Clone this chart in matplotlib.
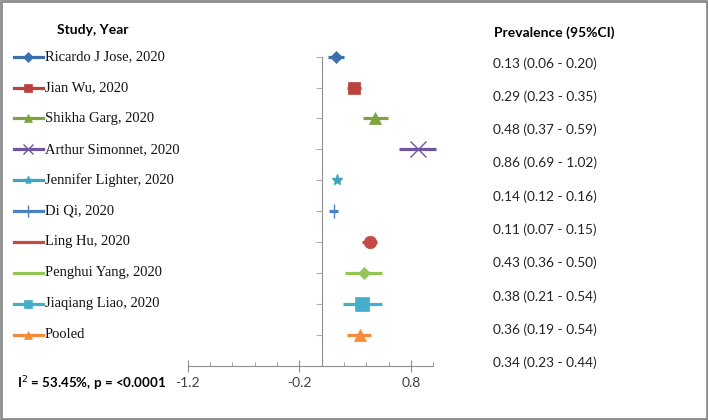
import matplotlib
matplotlib.use("Agg")
from matplotlib import pyplot as plt
from matplotlib.patches import Rectangle
from matplotlib.ticker import MultipleLocator, FixedLocator
import matplotlib.transforms as mtransforms

# study data
studies = ["Ricardo J Jose, 2020", "Jian Wu, 2020", "Shikha Garg, 2020",
           "Arthur Simonnet, 2020", "Jennifer Lighter, 2020", "Di Qi, 2020",
           "Ling Hu, 2020", "Penghui Yang, 2020", "Jiaqiang Liao, 2020", "Pooled"]
prev = [0.13, 0.29, 0.48, 0.86, 0.14, 0.11, 0.43, 0.38, 0.36, 0.34]
ci_low = [0.06, 0.23, 0.37, 0.69, 0.12, 0.07, 0.36, 0.21, 0.19, 0.23]
ci_high = [0.20, 0.35, 0.59, 1.02, 0.16, 0.15, 0.50, 0.54, 0.54, 0.44]
x_ticks_major = [-1.2, -0.2, 0.8]
heterogeneity = "I$^2$ = 53.45%, p = <0.0001"

# styles, one per series
colors = ["#3D6FAD", "#B9423F", "#7FA33F", "#7055A0", "#3FA3BD",
          "#4A80C4", "#C44A47", "#92C654", "#45AECB", "#F58C3A"]
markers = ["D", "s", "^", "x", "*", "|", "o", "D", "s", "^"]
msizes = [6, 9, 8, 11, 8, 10, 9, 6, 10, 9]
leg_markers = ["D", "s", "^", "x", "*", "|", "", "", "s", "^"]
leg_sizes = [5, 6, 6, 7, 6, 8, 0, 0, 6, 6]

fig = plt.figure(figsize=(7.08, 4.2), dpi=100)
W, H = 708.0, 420.0
ax = fig.add_axes([187.7 / W, (H - 365.5) / H, 245.6 / W, 308.8 / H])

n = len(studies)
ypos = list(range(n, 0, -1))
for i in range(n):
    ax.hlines(ypos[i], ci_low[i], ci_high[i], color=colors[i], lw=2.3, zorder=2,
              clip_on=False)
    mew = 1.0 if markers[i] in ("x", "*", "|") else 0.5
    ax.plot(prev[i], ypos[i], marker=markers[i], ms=msizes[i], color=colors[i],
            mec=colors[i], mew=mew, linestyle="none", zorder=3, clip_on=False)

ax.set_xlim(-1.2, 1.0)
ax.set_ylim(0, n)
grey = "#8e8e8e"
for s in ["top", "right"]:
    ax.spines[s].set_visible(False)
ax.spines["left"].set_position(("data", 0))
ax.spines["left"].set_color(grey)
ax.spines["bottom"].set_color(grey)
ax.spines["left"].set_bounds(0, n)

ax.xaxis.set_major_locator(FixedLocator(x_ticks_major))
ax.xaxis.set_minor_locator(MultipleLocator(0.2))
ax.set_xticklabels([str(v) for v in x_ticks_major])
ax.tick_params(axis="x", which="major", direction="inout", length=8, color=grey,
               labelsize=10, labelcolor="#404040", pad=4)
ax.tick_params(axis="x", which="minor", direction="in", length=3, color=grey)
for lab in ax.get_xticklabels():
    lab.set_fontfamily("Lato")
ax.set_yticks(ypos)
ax.tick_params(axis="y", direction="out", length=4, color="#b0b0b0", labelleft=False)

# legend column, rows follow the data rows
trans = mtransforms.blended_transform_factory(fig.transFigure, ax.transData)
for i in range(n):
    ax.plot([14 / W, 43 / W], [ypos[i], ypos[i]], transform=trans, color=colors[i],
            lw=2.3, clip_on=False)
    if leg_markers[i]:
        mew = 1.0 if leg_markers[i] in ("x", "*", "|") else 0.5
        ax.plot([28.5 / W], [ypos[i]], transform=trans, marker=leg_markers[i],
                ms=leg_sizes[i], color=colors[i], mec=colors[i], mew=mew,
                clip_on=False)
    ax.text(45 / W, ypos[i], studies[i], transform=trans, fontsize=10.5,
            family="Liberation Serif", va="center", ha="left", color="#111111")

fig.text(57 / W, 1 - 30 / H, "Study, Year", fontsize=10, fontweight="bold",
         family="Lato", va="center", ha="left")
fig.text(494 / W, 1 - 33 / H, "Prevalence (95%CI)", fontsize=10, fontweight="bold",
         family="Lato", va="center", ha="left")
for i in range(n):
    label = "%.2f (%.2f - %.2f)" % (prev[i], ci_low[i], ci_high[i])
    fig.text(493 / W, 1 - (63.3 + 33.3 * i) / H, label, fontsize=9.8,
             family="Lato", va="center", ha="left", color="#222222")
fig.text(17 / W, 1 - 384 / H, heterogeneity, fontsize=9.6, fontweight="bold",
         family="Lato", va="center", ha="left")

# chart border
fig.patches.append(Rectangle((1 / W, 1 / H), 1 - 2 / W, 1 - 2 / H,
                             transform=fig.transFigure, fill=False,
                             edgecolor="#8c8c8c", lw=2))

fig.savefig("out.png", dpi=100)
